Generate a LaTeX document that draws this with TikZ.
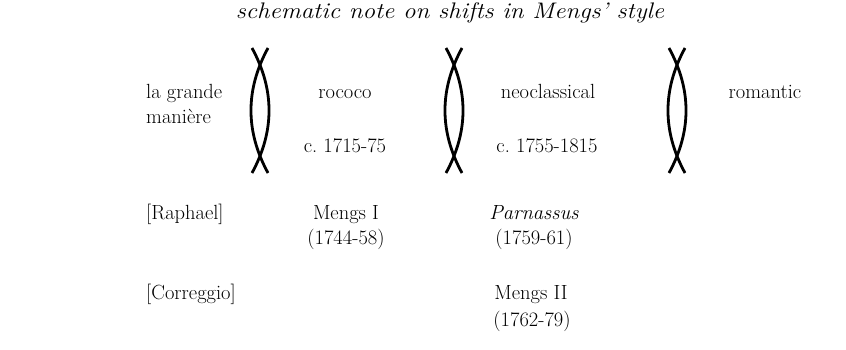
\documentclass[tikz,border=0pt]{standalone}
\frenchspacing
\begin{document}
\begin{tikzpicture}[x=1pt,y=-1pt,
  lbl/.style={inner sep=0pt,font=\fontsize{20.5}{24}\selectfont},
  ttl/.style={inner sep=0pt,font=\fontsize{22.5}{27}\selectfont\itshape},
  brk/.style={line width=2.8pt,line cap=butt}]
\useasboundingbox (0,0) rectangle (846,350);
\node[ttl,anchor=base] (title) at (450,19) {\scalebox{1.11}[1]{schematic note on shifts in Mengs' style}};
\node[lbl,anchor=base west] (lg1) at (146,99) {la grande};
\node[lbl,anchor=base west] (lg2) at (146,124) {manière};
\node[lbl,anchor=base] (roc) at (345,99) {rococo};
\node[lbl,anchor=base] (rocd) at (345,153) {c. 1715-75};
\node[lbl,anchor=base] (neo) at (548,99) {neoclassical};
\node[lbl,anchor=base] (neod) at (547,153) {c. 1755-1815};
\node[lbl,anchor=base] (rom) at (765,99) {romantic};
\node[lbl,anchor=base west] (raph) at (146,219) {[Raphael]};
\node[lbl,anchor=base] (m1) at (346,219) {Mengs I};
\node[lbl,anchor=base] (m1d) at (346,244) {(1744-58)};
\node[lbl,anchor=base] (par) at (534,219) {\itshape Parnassus};
\node[lbl,anchor=base] (pard) at (534,244) {(1759-61)};
\node[lbl,anchor=base west] (corr) at (146,299) {[Correggio]};
\node[lbl,anchor=base] (m2) at (531,299) {Mengs II};
\node[lbl,anchor=base] (m2d) at (532,326) {(1762-79)};
\foreach \c/\n in {260/b1,454/b2,677/b3}{
  \coordinate (\n tl) at (\c-8,48);
  \coordinate (\n tr) at (\c+8,48);
  \coordinate (\n bl) at (\c-8,173);
  \coordinate (\n br) at (\c+8,173);
  \draw[brk] (\n tl) .. controls (\c+14.7,89.7) and (\c+14.7,131.3) .. (\n bl);
  \draw[brk] (\n tr) .. controls (\c-14.7,89.7) and (\c-14.7,131.3) .. (\n br);
}
\end{tikzpicture}
\end{document}
